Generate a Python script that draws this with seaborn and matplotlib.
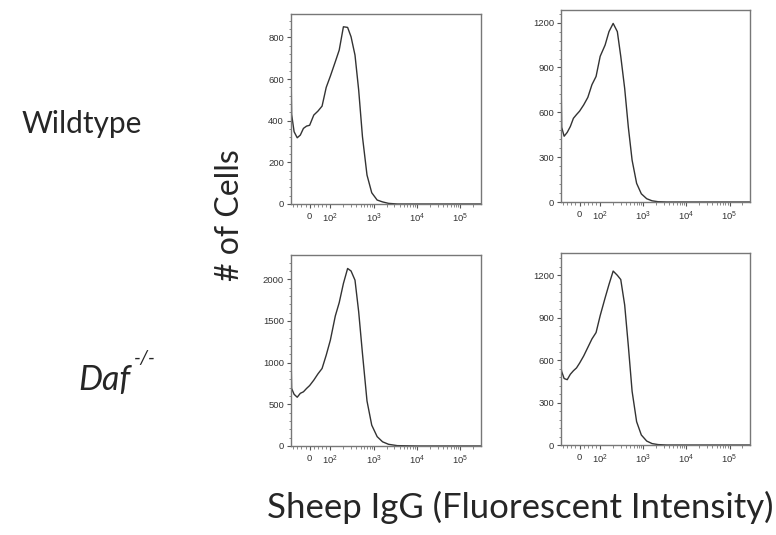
import numpy as np
import pandas as pd
import matplotlib
matplotlib.use("Agg")
import matplotlib.pyplot as plt
import seaborn as sns
from matplotlib.ticker import FixedLocator, AutoMinorLocator

# fluorescence channel positions shared by the four histograms
intensity = [-90, -87, -75, -60, -45, -30, -15, 0, 20, 40, 60, 80, 100, 130, 160,
             200, 250, 300, 370, 450, 550, 700, 900, 1200, 1600, 2200, 3500,
             10000, 100000, 300000]

# cell counts
wt_left = [640, 430, 347, 318, 331, 363, 374, 378, 427, 446, 470, 560, 614, 683, 739,
           851, 848, 803, 715, 547, 323, 139, 54, 19, 10, 3, 0, 0, 0, 0]
wt_right = [850, 500, 440, 466, 505, 560, 585, 608, 650, 700, 785, 840, 975, 1050, 1140,
            1195, 1140, 975, 760, 500, 280, 125, 55, 22, 8, 2, 0, 0, 0, 0]
daf_left = [1150, 690, 620, 585, 632, 650, 690, 725, 790, 865, 930, 1090, 1270, 1560, 1720,
            1950, 2130, 2100, 1990, 1610, 1110, 540, 250, 112, 50, 20, 4, 0, 0, 0]
daf_right = [545, 520, 470, 462, 500, 525, 545, 579, 630, 690, 750, 795, 915, 1040, 1135,
             1230, 1200, 1170, 990, 700, 380, 165, 71, 28, 10, 3, 0, 0, 0, 0]

x_ticks = [0, 100, 1000, 10000, 100000]
x_tick_labels = ['0', '$10^{2}$', '$10^{3}$', '$10^{4}$', '$10^{5}$']

sns.set_theme(style="ticks")
plt.rcParams['font.family'] = ['Liberation Sans', 'DejaVu Sans']
plt.rcParams['mathtext.fontset'] = 'custom'
plt.rcParams['mathtext.rm'] = 'Liberation Sans'
plt.rcParams['mathtext.it'] = 'Liberation Sans'

fig = plt.figure(figsize=(7.76, 5.35), dpi=100)

panels = [
    (wt_left, [0.375, 0.6187, 0.245, 0.355], 912, 200),
    (wt_right, [0.723, 0.6224, 0.2436, 0.359], 1285, 300),
    (daf_left, [0.375, 0.1664, 0.245, 0.357], 2292, 500),
    (daf_right, [0.723, 0.1682, 0.2436, 0.359], 1358, 300),
]

minor_x = [-80, -60, -40, -20, 20, 40, 60, 80]
for dec in [100, 1000, 10000, 100000]:
    minor_x += [k * dec for k in range(2, 10) if k * dec < 300000]

for counts, rect, ymax, ystep in panels:
    ax = fig.add_axes(rect)
    df = pd.DataFrame({'intensity': intensity, 'count': counts})
    sns.lineplot(data=df, x='intensity', y='count', ax=ax, color='#333333',
                 linewidth=1.0, estimator=None, sort=False)
    ax.set_xscale('symlog', linthresh=100, linscale=0.43)
    ax.set_xlim(-90, 300000)
    ax.set_ylim(0, ymax)
    ax.xaxis.set_major_locator(FixedLocator(x_ticks))
    ax.set_xticklabels(x_tick_labels)
    ax.xaxis.set_minor_locator(FixedLocator(minor_x))
    ax.set_yticks(np.arange(0, ymax, ystep))
    ax.yaxis.set_minor_locator(AutoMinorLocator(5))
    ax.set_xlabel('')
    ax.set_ylabel('')
    for s in ax.spines.values():
        s.set_color('#777777')
        s.set_linewidth(1.0)
    ax.tick_params(which='major', length=3, width=0.8, color='#555555',
                   labelsize=6.8, labelcolor='#333333', pad=2)
    ax.tick_params(which='minor', length=1.8, width=0.6, color='#777777')
    ax.tick_params(axis='x', which='major', pad=2.5)

fig.text(22 / 776, 1 - 133 / 535, 'Wildtype', fontsize=21.5, family='Lato',
         ha='left', va='baseline')
fig.text(78 / 776, 1 - 390 / 535, 'Daf', fontsize=24.5, family='Lato',
         style='italic', ha='left', va='baseline')
fig.text(134 / 776, 1 - 364 / 535, '-/-', fontsize=14, family='Lato',
         style='italic', ha='left', va='baseline')
fig.text(230 / 776, 1 - 215 / 535, '# of Cells', fontsize=23, family='Lato',
         rotation=90, ha='center', va='center')
fig.text(267 / 776, 1 - 518 / 535, 'Sheep IgG (Fluorescent Intensity)', fontsize=25,
         family='Lato', ha='left', va='baseline')

fig.savefig('out.png', dpi=100)
